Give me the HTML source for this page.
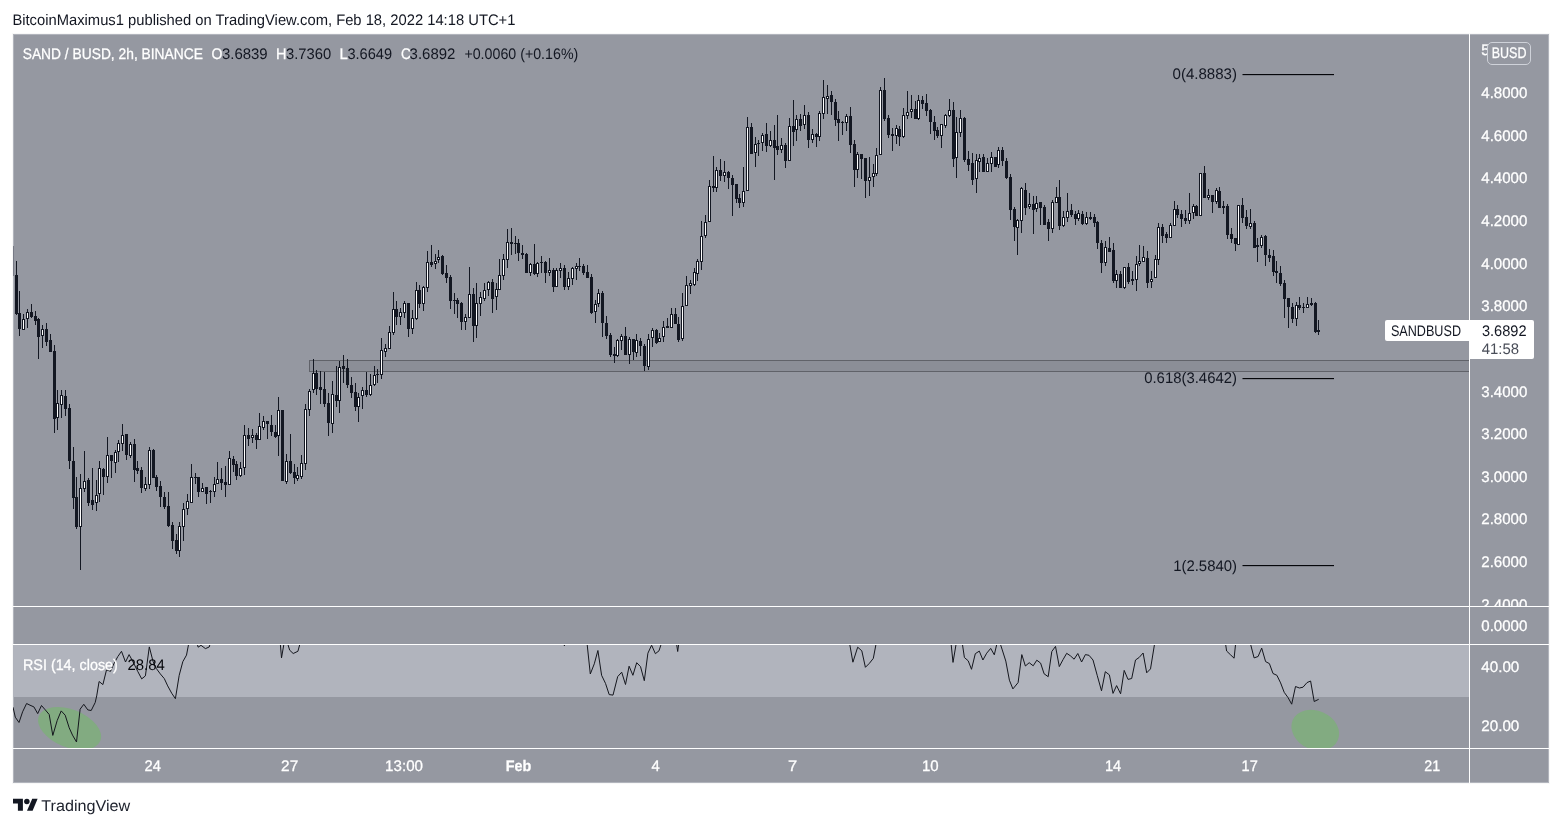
<!DOCTYPE html>
<html lang="en"><head><meta charset="utf-8"><title>SAND / BUSD chart - TradingView</title>
<style>
html,body{margin:0;padding:0;background:#fff;}
body{width:1562px;height:827px;overflow:hidden;font-family:"Liberation Sans", "DejaVu Sans", sans-serif;}
svg{display:block;}
text{font-family:"Liberation Sans", "DejaVu Sans", sans-serif;white-space:pre;text-rendering:geometricPrecision;}
.w{fill:#fff;stroke:#fff;stroke-width:0.28px;}
.d{fill:#131722;}
.g{fill:#4a4e59;}
.k{fill:#05060a;}
.t{fill:#1e222d;}
</style></head><body>
<svg width="1562" height="827" viewBox="0 0 1562 827">
<defs>
<clipPath id="cpMain"><rect x="13" y="34" width="1456" height="572"/></clipPath>
<clipPath id="cpRsi"><rect x="13" y="645" width="1456" height="104"/></clipPath>
<clipPath id="cpAx"><rect x="1470" y="34" width="79" height="572"/></clipPath>
</defs>
<rect x="0" y="0" width="1562" height="827" fill="#fff"/>
<text class="d" x="12.4" y="24.7" font-size="15.3" textLength="503.0" lengthAdjust="spacingAndGlyphs">BitcoinMaximus1 published on TradingView.com, Feb 18, 2022 14:18 UTC+1</text>
<rect x="13" y="34" width="1536" height="749" fill="#9598a1"/>
<rect x="13.5" y="34.5" width="1535" height="748" fill="none" stroke="#c9ccd3" stroke-opacity="0.55" stroke-width="1"/>
<rect x="12.5" y="33.5" width="1537" height="750" fill="none" stroke="#9598a1" stroke-opacity="0.07" stroke-width="1"/>
<rect x="13" y="645" width="1456" height="52" fill="#b1b4bd"/>
<rect x="309" y="360" width="1160" height="12" fill="#8b8e97"/>
<rect x="309" y="360" width="1160" height="1" fill="#606269"/>
<rect x="309" y="371" width="1160" height="1" fill="#606269"/>
<rect x="309" y="360" width="1" height="12" fill="#606269"/>
<rect x="1242.5" y="74" width="91.5" height="1.15" fill="#05060a"/>
<text class="d" x="1172.5" y="78.7" font-size="15.3" textLength="64.5" lengthAdjust="spacingAndGlyphs">0(4.8883)</text>
<rect x="1242.5" y="378" width="91.5" height="1.15" fill="#05060a"/>
<text class="d" x="1144.2" y="382.7" font-size="15.3" textLength="92.8" lengthAdjust="spacingAndGlyphs">0.618(3.4642)</text>
<rect x="1242.5" y="565" width="91.5" height="1.15" fill="#05060a"/>
<text class="d" x="1173.2" y="570.5" font-size="15.3" textLength="63.8" lengthAdjust="spacingAndGlyphs">1(2.5840)</text>
<g id="candles" shape-rendering="crispEdges" clip-path="url(#cpMain)">
<rect x="13" y="246" width="1" height="30" fill="#777a86"/>
<rect x="1318" y="320" width="1" height="15" fill="#131722"/>
<rect x="1317" y="330" width="3" height="2" fill="#131722"/>
<rect x="1315" y="302" width="1" height="31" fill="#131722"/>
<rect x="1314" y="303" width="3" height="29" fill="#131722"/>
<rect x="1311" y="298" width="1" height="8" fill="#131722"/>
<rect x="1310" y="303" width="3" height="2" fill="#131722"/>
<rect x="1307" y="297" width="1" height="11" fill="#131722"/>
<rect x="1306" y="304" width="3" height="4" fill="#131722"/>
<rect x="1307" y="305" width="1" height="2" fill="#fff"/>
<rect x="1303" y="303" width="1" height="10" fill="#131722"/>
<rect x="1302" y="307" width="3" height="1" fill="#131722"/>
<rect x="1299" y="297" width="1" height="13" fill="#131722"/>
<rect x="1298" y="305" width="3" height="3" fill="#131722"/>
<rect x="1296" y="302" width="1" height="24" fill="#131722"/>
<rect x="1295" y="305" width="3" height="14" fill="#131722"/>
<rect x="1296" y="306" width="1" height="12" fill="#fff"/>
<rect x="1292" y="303" width="1" height="20" fill="#131722"/>
<rect x="1291" y="307" width="3" height="12" fill="#131722"/>
<rect x="1288" y="298" width="1" height="30" fill="#131722"/>
<rect x="1287" y="298" width="3" height="9" fill="#131722"/>
<rect x="1284" y="280" width="1" height="38" fill="#131722"/>
<rect x="1283" y="283" width="3" height="16" fill="#131722"/>
<rect x="1280" y="266" width="1" height="20" fill="#131722"/>
<rect x="1279" y="273" width="3" height="11" fill="#131722"/>
<rect x="1276" y="261" width="1" height="22" fill="#131722"/>
<rect x="1275" y="271" width="3" height="2" fill="#131722"/>
<rect x="1273" y="250" width="1" height="26" fill="#131722"/>
<rect x="1272" y="256" width="3" height="16" fill="#131722"/>
<rect x="1269" y="249" width="1" height="13" fill="#131722"/>
<rect x="1268" y="255" width="3" height="3" fill="#131722"/>
<rect x="1265" y="235" width="1" height="31" fill="#131722"/>
<rect x="1264" y="236" width="3" height="19" fill="#131722"/>
<rect x="1261" y="235" width="1" height="13" fill="#131722"/>
<rect x="1260" y="237" width="3" height="9" fill="#131722"/>
<rect x="1261" y="238" width="1" height="7" fill="#fff"/>
<rect x="1257" y="238" width="1" height="24" fill="#131722"/>
<rect x="1256" y="245" width="3" height="2" fill="#131722"/>
<rect x="1254" y="221" width="1" height="27" fill="#131722"/>
<rect x="1253" y="223" width="3" height="25" fill="#131722"/>
<rect x="1250" y="209" width="1" height="20" fill="#131722"/>
<rect x="1249" y="223" width="3" height="4" fill="#131722"/>
<rect x="1250" y="224" width="1" height="2" fill="#fff"/>
<rect x="1246" y="210" width="1" height="19" fill="#131722"/>
<rect x="1245" y="217" width="3" height="9" fill="#131722"/>
<rect x="1242" y="198" width="1" height="25" fill="#131722"/>
<rect x="1241" y="205" width="3" height="13" fill="#131722"/>
<rect x="1238" y="205" width="1" height="40" fill="#131722"/>
<rect x="1237" y="205" width="3" height="40" fill="#131722"/>
<rect x="1238" y="206" width="1" height="38" fill="#fff"/>
<rect x="1235" y="238" width="1" height="13" fill="#131722"/>
<rect x="1234" y="238" width="3" height="6" fill="#131722"/>
<rect x="1231" y="228" width="1" height="15" fill="#131722"/>
<rect x="1230" y="234" width="3" height="5" fill="#131722"/>
<rect x="1227" y="204" width="1" height="35" fill="#131722"/>
<rect x="1226" y="206" width="3" height="29" fill="#131722"/>
<rect x="1223" y="201" width="1" height="13" fill="#131722"/>
<rect x="1222" y="206" width="3" height="2" fill="#131722"/>
<rect x="1219" y="187" width="1" height="21" fill="#131722"/>
<rect x="1218" y="191" width="3" height="17" fill="#131722"/>
<rect x="1216" y="188" width="1" height="16" fill="#131722"/>
<rect x="1215" y="190" width="3" height="12" fill="#131722"/>
<rect x="1216" y="191" width="1" height="10" fill="#fff"/>
<rect x="1212" y="195" width="1" height="18" fill="#131722"/>
<rect x="1211" y="195" width="3" height="7" fill="#131722"/>
<rect x="1208" y="189" width="1" height="11" fill="#131722"/>
<rect x="1207" y="195" width="3" height="3" fill="#131722"/>
<rect x="1208" y="196" width="1" height="1" fill="#fff"/>
<rect x="1204" y="166" width="1" height="32" fill="#131722"/>
<rect x="1203" y="173" width="3" height="25" fill="#131722"/>
<rect x="1200" y="173" width="1" height="43" fill="#131722"/>
<rect x="1199" y="173" width="3" height="43" fill="#131722"/>
<rect x="1200" y="174" width="1" height="41" fill="#fff"/>
<rect x="1196" y="205" width="1" height="11" fill="#131722"/>
<rect x="1195" y="206" width="3" height="10" fill="#131722"/>
<rect x="1193" y="204" width="1" height="15" fill="#131722"/>
<rect x="1192" y="206" width="3" height="7" fill="#131722"/>
<rect x="1193" y="207" width="1" height="5" fill="#fff"/>
<rect x="1189" y="193" width="1" height="31" fill="#131722"/>
<rect x="1188" y="213" width="3" height="8" fill="#131722"/>
<rect x="1189" y="214" width="1" height="6" fill="#fff"/>
<rect x="1185" y="210" width="1" height="14" fill="#131722"/>
<rect x="1184" y="218" width="3" height="3" fill="#131722"/>
<rect x="1181" y="210" width="1" height="17" fill="#131722"/>
<rect x="1180" y="214" width="3" height="5" fill="#131722"/>
<rect x="1177" y="205" width="1" height="13" fill="#131722"/>
<rect x="1176" y="209" width="3" height="6" fill="#131722"/>
<rect x="1174" y="201" width="1" height="25" fill="#131722"/>
<rect x="1173" y="209" width="3" height="17" fill="#131722"/>
<rect x="1174" y="210" width="1" height="15" fill="#fff"/>
<rect x="1170" y="223" width="1" height="15" fill="#131722"/>
<rect x="1169" y="225" width="3" height="13" fill="#131722"/>
<rect x="1170" y="226" width="1" height="11" fill="#fff"/>
<rect x="1166" y="232" width="1" height="11" fill="#131722"/>
<rect x="1165" y="234" width="3" height="4" fill="#131722"/>
<rect x="1162" y="224" width="1" height="19" fill="#131722"/>
<rect x="1161" y="227" width="3" height="9" fill="#131722"/>
<rect x="1158" y="223" width="1" height="42" fill="#131722"/>
<rect x="1157" y="227" width="3" height="33" fill="#131722"/>
<rect x="1158" y="228" width="1" height="31" fill="#fff"/>
<rect x="1155" y="255" width="1" height="23" fill="#131722"/>
<rect x="1154" y="259" width="3" height="19" fill="#131722"/>
<rect x="1155" y="260" width="1" height="17" fill="#fff"/>
<rect x="1151" y="271" width="1" height="17" fill="#131722"/>
<rect x="1150" y="279" width="3" height="3" fill="#131722"/>
<rect x="1151" y="280" width="1" height="1" fill="#fff"/>
<rect x="1147" y="251" width="1" height="37" fill="#131722"/>
<rect x="1146" y="258" width="3" height="25" fill="#131722"/>
<rect x="1143" y="246" width="1" height="16" fill="#131722"/>
<rect x="1142" y="257" width="3" height="5" fill="#131722"/>
<rect x="1143" y="258" width="1" height="3" fill="#fff"/>
<rect x="1139" y="245" width="1" height="21" fill="#131722"/>
<rect x="1138" y="261" width="3" height="3" fill="#131722"/>
<rect x="1139" y="262" width="1" height="1" fill="#fff"/>
<rect x="1136" y="256" width="1" height="35" fill="#131722"/>
<rect x="1135" y="264" width="3" height="16" fill="#131722"/>
<rect x="1136" y="265" width="1" height="14" fill="#fff"/>
<rect x="1132" y="271" width="1" height="14" fill="#131722"/>
<rect x="1131" y="279" width="3" height="2" fill="#131722"/>
<rect x="1128" y="263" width="1" height="21" fill="#131722"/>
<rect x="1127" y="267" width="3" height="15" fill="#131722"/>
<rect x="1124" y="267" width="1" height="22" fill="#131722"/>
<rect x="1123" y="267" width="3" height="21" fill="#131722"/>
<rect x="1124" y="268" width="1" height="19" fill="#fff"/>
<rect x="1120" y="271" width="1" height="17" fill="#131722"/>
<rect x="1119" y="274" width="3" height="14" fill="#131722"/>
<rect x="1116" y="270" width="1" height="18" fill="#131722"/>
<rect x="1115" y="274" width="3" height="7" fill="#131722"/>
<rect x="1116" y="275" width="1" height="5" fill="#fff"/>
<rect x="1113" y="243" width="1" height="40" fill="#131722"/>
<rect x="1112" y="250" width="3" height="31" fill="#131722"/>
<rect x="1109" y="237" width="1" height="15" fill="#131722"/>
<rect x="1108" y="248" width="3" height="4" fill="#131722"/>
<rect x="1105" y="241" width="1" height="25" fill="#131722"/>
<rect x="1104" y="247" width="3" height="16" fill="#131722"/>
<rect x="1105" y="248" width="1" height="14" fill="#fff"/>
<rect x="1101" y="240" width="1" height="33" fill="#131722"/>
<rect x="1100" y="243" width="3" height="20" fill="#131722"/>
<rect x="1097" y="221" width="1" height="28" fill="#131722"/>
<rect x="1096" y="222" width="3" height="21" fill="#131722"/>
<rect x="1094" y="214" width="1" height="13" fill="#131722"/>
<rect x="1093" y="217" width="3" height="6" fill="#131722"/>
<rect x="1090" y="212" width="1" height="8" fill="#131722"/>
<rect x="1089" y="217" width="3" height="2" fill="#131722"/>
<rect x="1086" y="212" width="1" height="13" fill="#131722"/>
<rect x="1085" y="217" width="3" height="7" fill="#131722"/>
<rect x="1086" y="218" width="1" height="5" fill="#fff"/>
<rect x="1082" y="211" width="1" height="14" fill="#131722"/>
<rect x="1081" y="214" width="3" height="10" fill="#131722"/>
<rect x="1078" y="210" width="1" height="11" fill="#131722"/>
<rect x="1077" y="213" width="3" height="6" fill="#131722"/>
<rect x="1078" y="214" width="1" height="4" fill="#fff"/>
<rect x="1075" y="211" width="1" height="14" fill="#131722"/>
<rect x="1074" y="214" width="3" height="5" fill="#131722"/>
<rect x="1071" y="204" width="1" height="13" fill="#131722"/>
<rect x="1070" y="210" width="3" height="5" fill="#131722"/>
<rect x="1067" y="193" width="1" height="29" fill="#131722"/>
<rect x="1066" y="211" width="3" height="7" fill="#131722"/>
<rect x="1067" y="212" width="1" height="5" fill="#fff"/>
<rect x="1063" y="211" width="1" height="16" fill="#131722"/>
<rect x="1062" y="217" width="3" height="9" fill="#131722"/>
<rect x="1063" y="218" width="1" height="7" fill="#fff"/>
<rect x="1059" y="180" width="1" height="50" fill="#131722"/>
<rect x="1058" y="197" width="3" height="29" fill="#131722"/>
<rect x="1056" y="187" width="1" height="16" fill="#131722"/>
<rect x="1055" y="197" width="3" height="6" fill="#131722"/>
<rect x="1056" y="198" width="1" height="4" fill="#fff"/>
<rect x="1052" y="200" width="1" height="33" fill="#131722"/>
<rect x="1051" y="202" width="3" height="27" fill="#131722"/>
<rect x="1052" y="203" width="1" height="25" fill="#fff"/>
<rect x="1048" y="219" width="1" height="22" fill="#131722"/>
<rect x="1047" y="222" width="3" height="7" fill="#131722"/>
<rect x="1044" y="205" width="1" height="20" fill="#131722"/>
<rect x="1043" y="207" width="3" height="18" fill="#131722"/>
<rect x="1040" y="202" width="1" height="23" fill="#131722"/>
<rect x="1039" y="202" width="3" height="6" fill="#131722"/>
<rect x="1036" y="196" width="1" height="16" fill="#131722"/>
<rect x="1035" y="203" width="3" height="6" fill="#131722"/>
<rect x="1036" y="204" width="1" height="4" fill="#fff"/>
<rect x="1033" y="196" width="1" height="38" fill="#131722"/>
<rect x="1032" y="204" width="3" height="6" fill="#131722"/>
<rect x="1029" y="193" width="1" height="16" fill="#131722"/>
<rect x="1028" y="204" width="3" height="3" fill="#131722"/>
<rect x="1029" y="205" width="1" height="1" fill="#fff"/>
<rect x="1025" y="183" width="1" height="32" fill="#131722"/>
<rect x="1024" y="190" width="3" height="18" fill="#131722"/>
<rect x="1021" y="187" width="1" height="46" fill="#131722"/>
<rect x="1020" y="188" width="3" height="33" fill="#131722"/>
<rect x="1021" y="189" width="1" height="31" fill="#fff"/>
<rect x="1017" y="219" width="1" height="36" fill="#131722"/>
<rect x="1016" y="220" width="3" height="8" fill="#131722"/>
<rect x="1017" y="221" width="1" height="6" fill="#fff"/>
<rect x="1014" y="207" width="1" height="34" fill="#131722"/>
<rect x="1013" y="209" width="3" height="18" fill="#131722"/>
<rect x="1010" y="174" width="1" height="46" fill="#131722"/>
<rect x="1009" y="177" width="3" height="33" fill="#131722"/>
<rect x="1006" y="158" width="1" height="21" fill="#131722"/>
<rect x="1005" y="161" width="3" height="17" fill="#131722"/>
<rect x="1002" y="147" width="1" height="19" fill="#131722"/>
<rect x="1001" y="150" width="3" height="11" fill="#131722"/>
<rect x="998" y="147" width="1" height="21" fill="#131722"/>
<rect x="997" y="150" width="3" height="15" fill="#131722"/>
<rect x="998" y="151" width="1" height="13" fill="#fff"/>
<rect x="995" y="157" width="1" height="10" fill="#131722"/>
<rect x="994" y="157" width="3" height="10" fill="#131722"/>
<rect x="991" y="152" width="1" height="20" fill="#131722"/>
<rect x="990" y="157" width="3" height="7" fill="#131722"/>
<rect x="991" y="158" width="1" height="5" fill="#fff"/>
<rect x="987" y="158" width="1" height="14" fill="#131722"/>
<rect x="986" y="163" width="3" height="9" fill="#131722"/>
<rect x="987" y="164" width="1" height="7" fill="#fff"/>
<rect x="983" y="154" width="1" height="18" fill="#131722"/>
<rect x="982" y="157" width="3" height="15" fill="#131722"/>
<rect x="979" y="154" width="1" height="18" fill="#131722"/>
<rect x="978" y="158" width="3" height="4" fill="#131722"/>
<rect x="979" y="159" width="1" height="2" fill="#fff"/>
<rect x="976" y="154" width="1" height="39" fill="#131722"/>
<rect x="975" y="160" width="3" height="19" fill="#131722"/>
<rect x="976" y="161" width="1" height="17" fill="#fff"/>
<rect x="972" y="153" width="1" height="32" fill="#131722"/>
<rect x="971" y="163" width="3" height="17" fill="#131722"/>
<rect x="968" y="151" width="1" height="20" fill="#131722"/>
<rect x="967" y="159" width="3" height="6" fill="#131722"/>
<rect x="964" y="117" width="1" height="45" fill="#131722"/>
<rect x="963" y="118" width="3" height="42" fill="#131722"/>
<rect x="960" y="110" width="1" height="27" fill="#131722"/>
<rect x="959" y="118" width="3" height="15" fill="#131722"/>
<rect x="960" y="119" width="1" height="13" fill="#fff"/>
<rect x="956" y="117" width="1" height="61" fill="#131722"/>
<rect x="955" y="132" width="3" height="26" fill="#131722"/>
<rect x="956" y="133" width="1" height="24" fill="#fff"/>
<rect x="953" y="102" width="1" height="65" fill="#131722"/>
<rect x="952" y="110" width="3" height="49" fill="#131722"/>
<rect x="949" y="99" width="1" height="18" fill="#131722"/>
<rect x="948" y="110" width="3" height="6" fill="#131722"/>
<rect x="949" y="111" width="1" height="4" fill="#fff"/>
<rect x="945" y="114" width="1" height="14" fill="#131722"/>
<rect x="944" y="115" width="3" height="11" fill="#131722"/>
<rect x="945" y="116" width="1" height="9" fill="#fff"/>
<rect x="941" y="124" width="1" height="24" fill="#131722"/>
<rect x="940" y="124" width="3" height="12" fill="#131722"/>
<rect x="941" y="125" width="1" height="10" fill="#fff"/>
<rect x="937" y="127" width="1" height="11" fill="#131722"/>
<rect x="936" y="130" width="3" height="6" fill="#131722"/>
<rect x="934" y="116" width="1" height="24" fill="#131722"/>
<rect x="933" y="122" width="3" height="9" fill="#131722"/>
<rect x="930" y="109" width="1" height="25" fill="#131722"/>
<rect x="929" y="110" width="3" height="12" fill="#131722"/>
<rect x="926" y="94" width="1" height="22" fill="#131722"/>
<rect x="925" y="103" width="3" height="8" fill="#131722"/>
<rect x="922" y="96" width="1" height="13" fill="#131722"/>
<rect x="921" y="100" width="3" height="4" fill="#131722"/>
<rect x="918" y="95" width="1" height="25" fill="#131722"/>
<rect x="917" y="100" width="3" height="19" fill="#131722"/>
<rect x="918" y="101" width="1" height="17" fill="#fff"/>
<rect x="915" y="101" width="1" height="18" fill="#131722"/>
<rect x="914" y="109" width="3" height="10" fill="#131722"/>
<rect x="911" y="95" width="1" height="23" fill="#131722"/>
<rect x="910" y="109" width="3" height="3" fill="#131722"/>
<rect x="911" y="110" width="1" height="1" fill="#fff"/>
<rect x="907" y="91" width="1" height="28" fill="#131722"/>
<rect x="906" y="112" width="3" height="4" fill="#131722"/>
<rect x="907" y="113" width="1" height="2" fill="#fff"/>
<rect x="903" y="108" width="1" height="30" fill="#131722"/>
<rect x="902" y="115" width="3" height="22" fill="#131722"/>
<rect x="903" y="116" width="1" height="20" fill="#fff"/>
<rect x="899" y="126" width="1" height="20" fill="#131722"/>
<rect x="898" y="129" width="3" height="8" fill="#131722"/>
<rect x="896" y="125" width="1" height="19" fill="#131722"/>
<rect x="895" y="128" width="3" height="8" fill="#131722"/>
<rect x="896" y="129" width="1" height="6" fill="#fff"/>
<rect x="892" y="128" width="1" height="23" fill="#131722"/>
<rect x="891" y="134" width="3" height="2" fill="#131722"/>
<rect x="888" y="115" width="1" height="23" fill="#131722"/>
<rect x="887" y="118" width="3" height="17" fill="#131722"/>
<rect x="884" y="78" width="1" height="43" fill="#131722"/>
<rect x="883" y="90" width="3" height="29" fill="#131722"/>
<rect x="880" y="87" width="1" height="68" fill="#131722"/>
<rect x="879" y="90" width="3" height="65" fill="#131722"/>
<rect x="880" y="91" width="1" height="63" fill="#fff"/>
<rect x="876" y="148" width="1" height="28" fill="#131722"/>
<rect x="875" y="155" width="3" height="19" fill="#131722"/>
<rect x="876" y="156" width="1" height="17" fill="#fff"/>
<rect x="873" y="164" width="1" height="23" fill="#131722"/>
<rect x="872" y="173" width="3" height="4" fill="#131722"/>
<rect x="873" y="174" width="1" height="2" fill="#fff"/>
<rect x="869" y="157" width="1" height="39" fill="#131722"/>
<rect x="868" y="177" width="3" height="4" fill="#131722"/>
<rect x="869" y="178" width="1" height="2" fill="#fff"/>
<rect x="865" y="158" width="1" height="40" fill="#131722"/>
<rect x="864" y="158" width="3" height="23" fill="#131722"/>
<rect x="861" y="154" width="1" height="25" fill="#131722"/>
<rect x="860" y="154" width="3" height="5" fill="#131722"/>
<rect x="857" y="152" width="1" height="26" fill="#131722"/>
<rect x="856" y="154" width="3" height="16" fill="#131722"/>
<rect x="857" y="155" width="1" height="14" fill="#fff"/>
<rect x="854" y="140" width="1" height="47" fill="#131722"/>
<rect x="853" y="144" width="3" height="26" fill="#131722"/>
<rect x="850" y="107" width="1" height="46" fill="#131722"/>
<rect x="849" y="116" width="3" height="29" fill="#131722"/>
<rect x="846" y="114" width="1" height="17" fill="#131722"/>
<rect x="845" y="116" width="3" height="7" fill="#131722"/>
<rect x="846" y="117" width="1" height="5" fill="#fff"/>
<rect x="842" y="121" width="1" height="14" fill="#131722"/>
<rect x="841" y="122" width="3" height="1" fill="#131722"/>
<rect x="838" y="111" width="1" height="30" fill="#131722"/>
<rect x="837" y="119" width="3" height="4" fill="#131722"/>
<rect x="835" y="99" width="1" height="27" fill="#131722"/>
<rect x="834" y="102" width="3" height="18" fill="#131722"/>
<rect x="831" y="91" width="1" height="24" fill="#131722"/>
<rect x="830" y="95" width="3" height="7" fill="#131722"/>
<rect x="827" y="85" width="1" height="29" fill="#131722"/>
<rect x="826" y="96" width="3" height="3" fill="#131722"/>
<rect x="827" y="97" width="1" height="1" fill="#fff"/>
<rect x="823" y="80" width="1" height="39" fill="#131722"/>
<rect x="822" y="97" width="3" height="17" fill="#131722"/>
<rect x="823" y="98" width="1" height="15" fill="#fff"/>
<rect x="819" y="111" width="1" height="30" fill="#131722"/>
<rect x="818" y="113" width="3" height="24" fill="#131722"/>
<rect x="819" y="114" width="1" height="22" fill="#fff"/>
<rect x="816" y="133" width="1" height="14" fill="#131722"/>
<rect x="815" y="134" width="3" height="3" fill="#131722"/>
<rect x="812" y="129" width="1" height="14" fill="#131722"/>
<rect x="811" y="134" width="3" height="6" fill="#131722"/>
<rect x="812" y="135" width="1" height="4" fill="#fff"/>
<rect x="808" y="112" width="1" height="36" fill="#131722"/>
<rect x="807" y="115" width="3" height="25" fill="#131722"/>
<rect x="804" y="105" width="1" height="24" fill="#131722"/>
<rect x="803" y="115" width="3" height="10" fill="#131722"/>
<rect x="804" y="116" width="1" height="8" fill="#fff"/>
<rect x="800" y="114" width="1" height="17" fill="#131722"/>
<rect x="799" y="119" width="3" height="7" fill="#131722"/>
<rect x="796" y="115" width="1" height="26" fill="#131722"/>
<rect x="795" y="119" width="3" height="11" fill="#131722"/>
<rect x="796" y="120" width="1" height="9" fill="#fff"/>
<rect x="793" y="100" width="1" height="46" fill="#131722"/>
<rect x="792" y="126" width="3" height="6" fill="#131722"/>
<rect x="789" y="118" width="1" height="43" fill="#131722"/>
<rect x="788" y="126" width="3" height="35" fill="#131722"/>
<rect x="789" y="127" width="1" height="33" fill="#fff"/>
<rect x="785" y="143" width="1" height="25" fill="#131722"/>
<rect x="784" y="145" width="3" height="16" fill="#131722"/>
<rect x="781" y="138" width="1" height="15" fill="#131722"/>
<rect x="780" y="145" width="3" height="5" fill="#131722"/>
<rect x="781" y="146" width="1" height="3" fill="#fff"/>
<rect x="777" y="115" width="1" height="40" fill="#131722"/>
<rect x="776" y="146" width="3" height="4" fill="#131722"/>
<rect x="774" y="125" width="1" height="55" fill="#131722"/>
<rect x="773" y="140" width="3" height="8" fill="#131722"/>
<rect x="770" y="131" width="1" height="16" fill="#131722"/>
<rect x="769" y="140" width="3" height="6" fill="#131722"/>
<rect x="770" y="141" width="1" height="4" fill="#fff"/>
<rect x="766" y="123" width="1" height="29" fill="#131722"/>
<rect x="765" y="134" width="3" height="12" fill="#131722"/>
<rect x="762" y="133" width="1" height="18" fill="#131722"/>
<rect x="761" y="135" width="3" height="8" fill="#131722"/>
<rect x="762" y="136" width="1" height="6" fill="#fff"/>
<rect x="758" y="140" width="1" height="16" fill="#131722"/>
<rect x="757" y="143" width="3" height="1" fill="#131722"/>
<rect x="755" y="137" width="1" height="30" fill="#131722"/>
<rect x="754" y="144" width="3" height="9" fill="#131722"/>
<rect x="755" y="145" width="1" height="7" fill="#fff"/>
<rect x="751" y="123" width="1" height="31" fill="#131722"/>
<rect x="750" y="127" width="3" height="27" fill="#131722"/>
<rect x="747" y="117" width="1" height="74" fill="#131722"/>
<rect x="746" y="127" width="3" height="64" fill="#131722"/>
<rect x="747" y="128" width="1" height="62" fill="#fff"/>
<rect x="743" y="167" width="1" height="40" fill="#131722"/>
<rect x="742" y="191" width="3" height="12" fill="#131722"/>
<rect x="743" y="192" width="1" height="10" fill="#fff"/>
<rect x="739" y="194" width="1" height="14" fill="#131722"/>
<rect x="738" y="198" width="3" height="5" fill="#131722"/>
<rect x="736" y="184" width="1" height="19" fill="#131722"/>
<rect x="735" y="184" width="3" height="15" fill="#131722"/>
<rect x="732" y="175" width="1" height="41" fill="#131722"/>
<rect x="731" y="178" width="3" height="7" fill="#131722"/>
<rect x="728" y="171" width="1" height="18" fill="#131722"/>
<rect x="727" y="172" width="3" height="6" fill="#131722"/>
<rect x="724" y="161" width="1" height="21" fill="#131722"/>
<rect x="723" y="172" width="3" height="4" fill="#131722"/>
<rect x="724" y="173" width="1" height="2" fill="#fff"/>
<rect x="720" y="159" width="1" height="22" fill="#131722"/>
<rect x="719" y="170" width="3" height="6" fill="#131722"/>
<rect x="716" y="167" width="1" height="25" fill="#131722"/>
<rect x="715" y="170" width="3" height="18" fill="#131722"/>
<rect x="716" y="171" width="1" height="16" fill="#fff"/>
<rect x="713" y="156" width="1" height="36" fill="#131722"/>
<rect x="712" y="186" width="3" height="2" fill="#131722"/>
<rect x="709" y="180" width="1" height="42" fill="#131722"/>
<rect x="708" y="186" width="3" height="36" fill="#131722"/>
<rect x="709" y="187" width="1" height="34" fill="#fff"/>
<rect x="705" y="215" width="1" height="23" fill="#131722"/>
<rect x="704" y="222" width="3" height="14" fill="#131722"/>
<rect x="705" y="223" width="1" height="12" fill="#fff"/>
<rect x="701" y="221" width="1" height="49" fill="#131722"/>
<rect x="700" y="236" width="3" height="26" fill="#131722"/>
<rect x="701" y="237" width="1" height="24" fill="#fff"/>
<rect x="697" y="259" width="1" height="22" fill="#131722"/>
<rect x="696" y="261" width="3" height="13" fill="#131722"/>
<rect x="697" y="262" width="1" height="11" fill="#fff"/>
<rect x="694" y="268" width="1" height="18" fill="#131722"/>
<rect x="693" y="272" width="3" height="13" fill="#131722"/>
<rect x="694" y="273" width="1" height="11" fill="#fff"/>
<rect x="690" y="280" width="1" height="14" fill="#131722"/>
<rect x="689" y="283" width="3" height="3" fill="#131722"/>
<rect x="690" y="284" width="1" height="1" fill="#fff"/>
<rect x="686" y="276" width="1" height="30" fill="#131722"/>
<rect x="685" y="285" width="3" height="21" fill="#131722"/>
<rect x="686" y="286" width="1" height="19" fill="#fff"/>
<rect x="682" y="293" width="1" height="48" fill="#131722"/>
<rect x="681" y="306" width="3" height="33" fill="#131722"/>
<rect x="682" y="307" width="1" height="31" fill="#fff"/>
<rect x="678" y="317" width="1" height="25" fill="#131722"/>
<rect x="677" y="324" width="3" height="16" fill="#131722"/>
<rect x="675" y="308" width="1" height="16" fill="#131722"/>
<rect x="674" y="314" width="3" height="10" fill="#131722"/>
<rect x="671" y="308" width="1" height="20" fill="#131722"/>
<rect x="670" y="314" width="3" height="14" fill="#131722"/>
<rect x="671" y="315" width="1" height="12" fill="#fff"/>
<rect x="667" y="318" width="1" height="10" fill="#131722"/>
<rect x="666" y="326" width="3" height="2" fill="#131722"/>
<rect x="663" y="321" width="1" height="21" fill="#131722"/>
<rect x="662" y="327" width="3" height="10" fill="#131722"/>
<rect x="663" y="328" width="1" height="8" fill="#fff"/>
<rect x="659" y="333" width="1" height="9" fill="#131722"/>
<rect x="658" y="338" width="3" height="4" fill="#131722"/>
<rect x="659" y="339" width="1" height="2" fill="#fff"/>
<rect x="656" y="329" width="1" height="15" fill="#131722"/>
<rect x="655" y="330" width="3" height="13" fill="#131722"/>
<rect x="652" y="328" width="1" height="19" fill="#131722"/>
<rect x="651" y="330" width="3" height="8" fill="#131722"/>
<rect x="652" y="331" width="1" height="6" fill="#fff"/>
<rect x="648" y="334" width="1" height="36" fill="#131722"/>
<rect x="647" y="339" width="3" height="28" fill="#131722"/>
<rect x="648" y="340" width="1" height="26" fill="#fff"/>
<rect x="644" y="344" width="1" height="27" fill="#131722"/>
<rect x="643" y="346" width="3" height="20" fill="#131722"/>
<rect x="640" y="338" width="1" height="18" fill="#131722"/>
<rect x="639" y="341" width="3" height="5" fill="#131722"/>
<rect x="636" y="334" width="1" height="23" fill="#131722"/>
<rect x="635" y="340" width="3" height="13" fill="#131722"/>
<rect x="636" y="341" width="1" height="11" fill="#fff"/>
<rect x="633" y="339" width="1" height="21" fill="#131722"/>
<rect x="632" y="339" width="3" height="13" fill="#131722"/>
<rect x="629" y="337" width="1" height="27" fill="#131722"/>
<rect x="628" y="339" width="3" height="16" fill="#131722"/>
<rect x="629" y="340" width="1" height="14" fill="#fff"/>
<rect x="625" y="327" width="1" height="28" fill="#131722"/>
<rect x="624" y="336" width="3" height="19" fill="#131722"/>
<rect x="621" y="334" width="1" height="16" fill="#131722"/>
<rect x="620" y="336" width="3" height="5" fill="#131722"/>
<rect x="621" y="337" width="1" height="3" fill="#fff"/>
<rect x="617" y="339" width="1" height="18" fill="#131722"/>
<rect x="616" y="340" width="3" height="16" fill="#131722"/>
<rect x="617" y="341" width="1" height="14" fill="#fff"/>
<rect x="614" y="347" width="1" height="16" fill="#131722"/>
<rect x="613" y="354" width="3" height="2" fill="#131722"/>
<rect x="610" y="333" width="1" height="24" fill="#131722"/>
<rect x="609" y="335" width="3" height="20" fill="#131722"/>
<rect x="606" y="316" width="1" height="23" fill="#131722"/>
<rect x="605" y="323" width="3" height="13" fill="#131722"/>
<rect x="602" y="291" width="1" height="46" fill="#131722"/>
<rect x="601" y="293" width="3" height="30" fill="#131722"/>
<rect x="598" y="289" width="1" height="18" fill="#131722"/>
<rect x="597" y="293" width="3" height="11" fill="#131722"/>
<rect x="598" y="294" width="1" height="9" fill="#fff"/>
<rect x="595" y="300" width="1" height="23" fill="#131722"/>
<rect x="594" y="304" width="3" height="8" fill="#131722"/>
<rect x="595" y="305" width="1" height="6" fill="#fff"/>
<rect x="591" y="274" width="1" height="40" fill="#131722"/>
<rect x="590" y="277" width="3" height="36" fill="#131722"/>
<rect x="587" y="265" width="1" height="13" fill="#131722"/>
<rect x="586" y="272" width="3" height="6" fill="#131722"/>
<rect x="583" y="264" width="1" height="11" fill="#131722"/>
<rect x="582" y="266" width="3" height="7" fill="#131722"/>
<rect x="579" y="258" width="1" height="13" fill="#131722"/>
<rect x="578" y="266" width="3" height="1" fill="#131722"/>
<rect x="576" y="263" width="1" height="17" fill="#131722"/>
<rect x="575" y="266" width="3" height="3" fill="#131722"/>
<rect x="576" y="267" width="1" height="1" fill="#fff"/>
<rect x="572" y="267" width="1" height="18" fill="#131722"/>
<rect x="571" y="268" width="3" height="11" fill="#131722"/>
<rect x="572" y="269" width="1" height="9" fill="#fff"/>
<rect x="568" y="272" width="1" height="18" fill="#131722"/>
<rect x="567" y="278" width="3" height="9" fill="#131722"/>
<rect x="568" y="279" width="1" height="7" fill="#fff"/>
<rect x="564" y="265" width="1" height="25" fill="#131722"/>
<rect x="563" y="268" width="3" height="19" fill="#131722"/>
<rect x="560" y="263" width="1" height="15" fill="#131722"/>
<rect x="559" y="268" width="3" height="3" fill="#131722"/>
<rect x="560" y="269" width="1" height="1" fill="#fff"/>
<rect x="556" y="268" width="1" height="19" fill="#131722"/>
<rect x="555" y="270" width="3" height="17" fill="#131722"/>
<rect x="556" y="271" width="1" height="15" fill="#fff"/>
<rect x="553" y="268" width="1" height="24" fill="#131722"/>
<rect x="552" y="270" width="3" height="17" fill="#131722"/>
<rect x="549" y="258" width="1" height="18" fill="#131722"/>
<rect x="548" y="270" width="3" height="3" fill="#131722"/>
<rect x="549" y="271" width="1" height="1" fill="#fff"/>
<rect x="545" y="261" width="1" height="22" fill="#131722"/>
<rect x="544" y="262" width="3" height="11" fill="#131722"/>
<rect x="541" y="256" width="1" height="17" fill="#131722"/>
<rect x="540" y="262" width="3" height="1" fill="#131722"/>
<rect x="537" y="262" width="1" height="15" fill="#131722"/>
<rect x="536" y="263" width="3" height="11" fill="#131722"/>
<rect x="537" y="264" width="1" height="9" fill="#fff"/>
<rect x="534" y="244" width="1" height="31" fill="#131722"/>
<rect x="533" y="264" width="3" height="10" fill="#131722"/>
<rect x="530" y="263" width="1" height="13" fill="#131722"/>
<rect x="529" y="264" width="3" height="9" fill="#131722"/>
<rect x="530" y="265" width="1" height="7" fill="#fff"/>
<rect x="526" y="253" width="1" height="20" fill="#131722"/>
<rect x="525" y="254" width="3" height="19" fill="#131722"/>
<rect x="522" y="245" width="1" height="14" fill="#131722"/>
<rect x="521" y="253" width="3" height="2" fill="#131722"/>
<rect x="518" y="239" width="1" height="22" fill="#131722"/>
<rect x="517" y="243" width="3" height="10" fill="#131722"/>
<rect x="515" y="236" width="1" height="18" fill="#131722"/>
<rect x="514" y="243" width="3" height="1" fill="#131722"/>
<rect x="511" y="228" width="1" height="27" fill="#131722"/>
<rect x="510" y="242" width="3" height="2" fill="#131722"/>
<rect x="507" y="229" width="1" height="39" fill="#131722"/>
<rect x="506" y="242" width="3" height="18" fill="#131722"/>
<rect x="507" y="243" width="1" height="16" fill="#fff"/>
<rect x="503" y="254" width="1" height="26" fill="#131722"/>
<rect x="502" y="259" width="3" height="17" fill="#131722"/>
<rect x="503" y="260" width="1" height="15" fill="#fff"/>
<rect x="499" y="259" width="1" height="31" fill="#131722"/>
<rect x="498" y="275" width="3" height="15" fill="#131722"/>
<rect x="499" y="276" width="1" height="13" fill="#fff"/>
<rect x="496" y="283" width="1" height="27" fill="#131722"/>
<rect x="495" y="289" width="3" height="8" fill="#131722"/>
<rect x="496" y="290" width="1" height="6" fill="#fff"/>
<rect x="492" y="279" width="1" height="34" fill="#131722"/>
<rect x="491" y="282" width="3" height="17" fill="#131722"/>
<rect x="488" y="281" width="1" height="15" fill="#131722"/>
<rect x="487" y="282" width="3" height="8" fill="#131722"/>
<rect x="488" y="283" width="1" height="6" fill="#fff"/>
<rect x="484" y="283" width="1" height="18" fill="#131722"/>
<rect x="483" y="290" width="3" height="9" fill="#131722"/>
<rect x="484" y="291" width="1" height="7" fill="#fff"/>
<rect x="480" y="292" width="1" height="24" fill="#131722"/>
<rect x="479" y="297" width="3" height="7" fill="#131722"/>
<rect x="480" y="298" width="1" height="5" fill="#fff"/>
<rect x="476" y="283" width="1" height="55" fill="#131722"/>
<rect x="475" y="303" width="3" height="23" fill="#131722"/>
<rect x="476" y="304" width="1" height="21" fill="#fff"/>
<rect x="473" y="288" width="1" height="54" fill="#131722"/>
<rect x="472" y="294" width="3" height="32" fill="#131722"/>
<rect x="469" y="267" width="1" height="51" fill="#131722"/>
<rect x="468" y="294" width="3" height="24" fill="#131722"/>
<rect x="469" y="295" width="1" height="22" fill="#fff"/>
<rect x="465" y="314" width="1" height="16" fill="#131722"/>
<rect x="464" y="317" width="3" height="5" fill="#131722"/>
<rect x="465" y="318" width="1" height="3" fill="#fff"/>
<rect x="461" y="302" width="1" height="28" fill="#131722"/>
<rect x="460" y="303" width="3" height="19" fill="#131722"/>
<rect x="457" y="298" width="1" height="20" fill="#131722"/>
<rect x="456" y="300" width="3" height="4" fill="#131722"/>
<rect x="454" y="293" width="1" height="21" fill="#131722"/>
<rect x="453" y="300" width="3" height="1" fill="#131722"/>
<rect x="450" y="275" width="1" height="34" fill="#131722"/>
<rect x="449" y="277" width="3" height="24" fill="#131722"/>
<rect x="446" y="265" width="1" height="18" fill="#131722"/>
<rect x="445" y="273" width="3" height="5" fill="#131722"/>
<rect x="442" y="255" width="1" height="20" fill="#131722"/>
<rect x="441" y="256" width="3" height="18" fill="#131722"/>
<rect x="438" y="250" width="1" height="13" fill="#131722"/>
<rect x="437" y="257" width="3" height="3" fill="#131722"/>
<rect x="438" y="258" width="1" height="1" fill="#fff"/>
<rect x="435" y="254" width="1" height="15" fill="#131722"/>
<rect x="434" y="261" width="3" height="3" fill="#131722"/>
<rect x="435" y="262" width="1" height="1" fill="#fff"/>
<rect x="431" y="245" width="1" height="22" fill="#131722"/>
<rect x="430" y="262" width="3" height="3" fill="#131722"/>
<rect x="427" y="251" width="1" height="41" fill="#131722"/>
<rect x="426" y="262" width="3" height="26" fill="#131722"/>
<rect x="427" y="263" width="1" height="24" fill="#fff"/>
<rect x="423" y="286" width="1" height="25" fill="#131722"/>
<rect x="422" y="287" width="3" height="17" fill="#131722"/>
<rect x="423" y="288" width="1" height="15" fill="#fff"/>
<rect x="419" y="285" width="1" height="23" fill="#131722"/>
<rect x="418" y="290" width="3" height="14" fill="#131722"/>
<rect x="416" y="282" width="1" height="38" fill="#131722"/>
<rect x="415" y="290" width="3" height="29" fill="#131722"/>
<rect x="416" y="291" width="1" height="27" fill="#fff"/>
<rect x="412" y="310" width="1" height="24" fill="#131722"/>
<rect x="411" y="318" width="3" height="11" fill="#131722"/>
<rect x="412" y="319" width="1" height="9" fill="#fff"/>
<rect x="408" y="303" width="1" height="34" fill="#131722"/>
<rect x="407" y="303" width="3" height="26" fill="#131722"/>
<rect x="404" y="301" width="1" height="17" fill="#131722"/>
<rect x="403" y="303" width="3" height="10" fill="#131722"/>
<rect x="404" y="304" width="1" height="8" fill="#fff"/>
<rect x="400" y="308" width="1" height="17" fill="#131722"/>
<rect x="399" y="312" width="3" height="5" fill="#131722"/>
<rect x="400" y="313" width="1" height="3" fill="#fff"/>
<rect x="396" y="301" width="1" height="24" fill="#131722"/>
<rect x="395" y="309" width="3" height="8" fill="#131722"/>
<rect x="393" y="292" width="1" height="43" fill="#131722"/>
<rect x="392" y="309" width="3" height="24" fill="#131722"/>
<rect x="393" y="310" width="1" height="22" fill="#fff"/>
<rect x="389" y="326" width="1" height="23" fill="#131722"/>
<rect x="388" y="332" width="3" height="17" fill="#131722"/>
<rect x="389" y="333" width="1" height="15" fill="#fff"/>
<rect x="385" y="344" width="1" height="13" fill="#131722"/>
<rect x="384" y="348" width="3" height="4" fill="#131722"/>
<rect x="385" y="349" width="1" height="2" fill="#fff"/>
<rect x="381" y="338" width="1" height="41" fill="#131722"/>
<rect x="380" y="350" width="3" height="25" fill="#131722"/>
<rect x="381" y="351" width="1" height="23" fill="#fff"/>
<rect x="377" y="369" width="1" height="14" fill="#131722"/>
<rect x="376" y="374" width="3" height="1" fill="#131722"/>
<rect x="374" y="366" width="1" height="20" fill="#131722"/>
<rect x="373" y="375" width="3" height="10" fill="#131722"/>
<rect x="374" y="376" width="1" height="8" fill="#fff"/>
<rect x="370" y="374" width="1" height="22" fill="#131722"/>
<rect x="369" y="385" width="3" height="10" fill="#131722"/>
<rect x="370" y="386" width="1" height="8" fill="#fff"/>
<rect x="366" y="372" width="1" height="25" fill="#131722"/>
<rect x="365" y="390" width="3" height="5" fill="#131722"/>
<rect x="362" y="387" width="1" height="22" fill="#131722"/>
<rect x="361" y="390" width="3" height="6" fill="#131722"/>
<rect x="362" y="391" width="1" height="4" fill="#fff"/>
<rect x="358" y="393" width="1" height="29" fill="#131722"/>
<rect x="357" y="397" width="3" height="10" fill="#131722"/>
<rect x="358" y="398" width="1" height="8" fill="#fff"/>
<rect x="355" y="383" width="1" height="28" fill="#131722"/>
<rect x="354" y="392" width="3" height="15" fill="#131722"/>
<rect x="351" y="377" width="1" height="21" fill="#131722"/>
<rect x="350" y="385" width="3" height="8" fill="#131722"/>
<rect x="347" y="359" width="1" height="29" fill="#131722"/>
<rect x="346" y="368" width="3" height="17" fill="#131722"/>
<rect x="343" y="355" width="1" height="28" fill="#131722"/>
<rect x="342" y="366" width="3" height="3" fill="#131722"/>
<rect x="339" y="361" width="1" height="52" fill="#131722"/>
<rect x="338" y="367" width="3" height="34" fill="#131722"/>
<rect x="339" y="368" width="1" height="32" fill="#fff"/>
<rect x="336" y="366" width="1" height="41" fill="#131722"/>
<rect x="335" y="395" width="3" height="6" fill="#131722"/>
<rect x="332" y="381" width="1" height="52" fill="#131722"/>
<rect x="331" y="394" width="3" height="30" fill="#131722"/>
<rect x="332" y="395" width="1" height="28" fill="#fff"/>
<rect x="328" y="393" width="1" height="43" fill="#131722"/>
<rect x="327" y="403" width="3" height="20" fill="#131722"/>
<rect x="324" y="372" width="1" height="35" fill="#131722"/>
<rect x="323" y="389" width="3" height="15" fill="#131722"/>
<rect x="320" y="371" width="1" height="33" fill="#131722"/>
<rect x="319" y="387" width="3" height="3" fill="#131722"/>
<rect x="316" y="370" width="1" height="25" fill="#131722"/>
<rect x="315" y="373" width="3" height="16" fill="#131722"/>
<rect x="313" y="359" width="1" height="34" fill="#131722"/>
<rect x="312" y="373" width="3" height="17" fill="#131722"/>
<rect x="313" y="374" width="1" height="15" fill="#fff"/>
<rect x="309" y="389" width="1" height="27" fill="#131722"/>
<rect x="308" y="391" width="3" height="19" fill="#131722"/>
<rect x="309" y="392" width="1" height="17" fill="#fff"/>
<rect x="305" y="404" width="1" height="66" fill="#131722"/>
<rect x="304" y="409" width="3" height="55" fill="#131722"/>
<rect x="305" y="410" width="1" height="53" fill="#fff"/>
<rect x="301" y="455" width="1" height="24" fill="#131722"/>
<rect x="300" y="463" width="3" height="14" fill="#131722"/>
<rect x="301" y="464" width="1" height="12" fill="#fff"/>
<rect x="297" y="467" width="1" height="14" fill="#131722"/>
<rect x="296" y="475" width="3" height="4" fill="#131722"/>
<rect x="297" y="476" width="1" height="2" fill="#fff"/>
<rect x="294" y="464" width="1" height="20" fill="#131722"/>
<rect x="293" y="472" width="3" height="6" fill="#131722"/>
<rect x="290" y="434" width="1" height="40" fill="#131722"/>
<rect x="289" y="461" width="3" height="12" fill="#131722"/>
<rect x="286" y="454" width="1" height="30" fill="#131722"/>
<rect x="285" y="461" width="3" height="21" fill="#131722"/>
<rect x="286" y="462" width="1" height="19" fill="#fff"/>
<rect x="282" y="410" width="1" height="71" fill="#131722"/>
<rect x="281" y="410" width="3" height="71" fill="#131722"/>
<rect x="278" y="397" width="1" height="59" fill="#131722"/>
<rect x="277" y="410" width="3" height="26" fill="#131722"/>
<rect x="278" y="411" width="1" height="24" fill="#fff"/>
<rect x="275" y="425" width="1" height="13" fill="#131722"/>
<rect x="274" y="432" width="3" height="5" fill="#131722"/>
<rect x="271" y="415" width="1" height="21" fill="#131722"/>
<rect x="270" y="425" width="3" height="7" fill="#131722"/>
<rect x="267" y="421" width="1" height="18" fill="#131722"/>
<rect x="266" y="421" width="3" height="3" fill="#131722"/>
<rect x="263" y="416" width="1" height="14" fill="#131722"/>
<rect x="262" y="421" width="3" height="7" fill="#131722"/>
<rect x="263" y="422" width="1" height="5" fill="#fff"/>
<rect x="259" y="413" width="1" height="27" fill="#131722"/>
<rect x="258" y="426" width="3" height="14" fill="#131722"/>
<rect x="259" y="427" width="1" height="12" fill="#fff"/>
<rect x="256" y="433" width="1" height="16" fill="#131722"/>
<rect x="255" y="435" width="3" height="5" fill="#131722"/>
<rect x="252" y="429" width="1" height="14" fill="#131722"/>
<rect x="251" y="435" width="3" height="3" fill="#131722"/>
<rect x="252" y="436" width="1" height="1" fill="#fff"/>
<rect x="248" y="428" width="1" height="18" fill="#131722"/>
<rect x="247" y="435" width="3" height="4" fill="#131722"/>
<rect x="244" y="425" width="1" height="50" fill="#131722"/>
<rect x="243" y="435" width="3" height="33" fill="#131722"/>
<rect x="244" y="436" width="1" height="31" fill="#fff"/>
<rect x="240" y="462" width="1" height="15" fill="#131722"/>
<rect x="239" y="468" width="3" height="8" fill="#131722"/>
<rect x="240" y="469" width="1" height="6" fill="#fff"/>
<rect x="236" y="461" width="1" height="19" fill="#131722"/>
<rect x="235" y="464" width="3" height="12" fill="#131722"/>
<rect x="233" y="456" width="1" height="16" fill="#131722"/>
<rect x="232" y="459" width="3" height="6" fill="#131722"/>
<rect x="229" y="451" width="1" height="34" fill="#131722"/>
<rect x="228" y="458" width="3" height="27" fill="#131722"/>
<rect x="229" y="459" width="1" height="25" fill="#fff"/>
<rect x="225" y="466" width="1" height="31" fill="#131722"/>
<rect x="224" y="482" width="3" height="3" fill="#131722"/>
<rect x="221" y="468" width="1" height="22" fill="#131722"/>
<rect x="220" y="479" width="3" height="4" fill="#131722"/>
<rect x="217" y="462" width="1" height="22" fill="#131722"/>
<rect x="216" y="479" width="3" height="5" fill="#131722"/>
<rect x="217" y="480" width="1" height="3" fill="#fff"/>
<rect x="214" y="477" width="1" height="20" fill="#131722"/>
<rect x="213" y="484" width="3" height="8" fill="#131722"/>
<rect x="214" y="485" width="1" height="6" fill="#fff"/>
<rect x="210" y="490" width="1" height="13" fill="#131722"/>
<rect x="209" y="491" width="3" height="1" fill="#131722"/>
<rect x="206" y="487" width="1" height="17" fill="#131722"/>
<rect x="205" y="487" width="3" height="7" fill="#131722"/>
<rect x="202" y="483" width="1" height="9" fill="#131722"/>
<rect x="201" y="488" width="3" height="4" fill="#131722"/>
<rect x="202" y="489" width="1" height="2" fill="#fff"/>
<rect x="198" y="477" width="1" height="20" fill="#131722"/>
<rect x="197" y="477" width="3" height="15" fill="#131722"/>
<rect x="195" y="473" width="1" height="11" fill="#131722"/>
<rect x="194" y="477" width="3" height="1" fill="#131722"/>
<rect x="191" y="464" width="1" height="39" fill="#131722"/>
<rect x="190" y="477" width="3" height="26" fill="#131722"/>
<rect x="191" y="478" width="1" height="24" fill="#fff"/>
<rect x="187" y="494" width="1" height="21" fill="#131722"/>
<rect x="186" y="501" width="3" height="8" fill="#131722"/>
<rect x="187" y="502" width="1" height="6" fill="#fff"/>
<rect x="183" y="503" width="1" height="38" fill="#131722"/>
<rect x="182" y="509" width="3" height="18" fill="#131722"/>
<rect x="183" y="510" width="1" height="16" fill="#fff"/>
<rect x="179" y="522" width="1" height="35" fill="#131722"/>
<rect x="178" y="526" width="3" height="25" fill="#131722"/>
<rect x="179" y="527" width="1" height="23" fill="#fff"/>
<rect x="176" y="534" width="1" height="20" fill="#131722"/>
<rect x="175" y="540" width="3" height="11" fill="#131722"/>
<rect x="172" y="522" width="1" height="27" fill="#131722"/>
<rect x="171" y="525" width="3" height="16" fill="#131722"/>
<rect x="168" y="492" width="1" height="35" fill="#131722"/>
<rect x="167" y="506" width="3" height="20" fill="#131722"/>
<rect x="164" y="492" width="1" height="17" fill="#131722"/>
<rect x="163" y="497" width="3" height="10" fill="#131722"/>
<rect x="160" y="481" width="1" height="26" fill="#131722"/>
<rect x="159" y="486" width="3" height="11" fill="#131722"/>
<rect x="156" y="475" width="1" height="16" fill="#131722"/>
<rect x="155" y="477" width="3" height="10" fill="#131722"/>
<rect x="153" y="449" width="1" height="29" fill="#131722"/>
<rect x="152" y="450" width="3" height="28" fill="#131722"/>
<rect x="149" y="447" width="1" height="42" fill="#131722"/>
<rect x="148" y="450" width="3" height="35" fill="#131722"/>
<rect x="149" y="451" width="1" height="33" fill="#fff"/>
<rect x="145" y="477" width="1" height="14" fill="#131722"/>
<rect x="144" y="484" width="3" height="5" fill="#131722"/>
<rect x="145" y="485" width="1" height="3" fill="#fff"/>
<rect x="141" y="467" width="1" height="26" fill="#131722"/>
<rect x="140" y="470" width="3" height="18" fill="#131722"/>
<rect x="137" y="461" width="1" height="13" fill="#131722"/>
<rect x="136" y="468" width="3" height="3" fill="#131722"/>
<rect x="134" y="439" width="1" height="43" fill="#131722"/>
<rect x="133" y="444" width="3" height="26" fill="#131722"/>
<rect x="130" y="442" width="1" height="16" fill="#131722"/>
<rect x="129" y="444" width="3" height="12" fill="#131722"/>
<rect x="130" y="445" width="1" height="10" fill="#fff"/>
<rect x="126" y="434" width="1" height="26" fill="#131722"/>
<rect x="125" y="434" width="3" height="21" fill="#131722"/>
<rect x="122" y="424" width="1" height="27" fill="#131722"/>
<rect x="121" y="435" width="3" height="9" fill="#131722"/>
<rect x="122" y="436" width="1" height="7" fill="#fff"/>
<rect x="118" y="440" width="1" height="22" fill="#131722"/>
<rect x="117" y="443" width="3" height="9" fill="#131722"/>
<rect x="118" y="444" width="1" height="7" fill="#fff"/>
<rect x="115" y="450" width="1" height="23" fill="#131722"/>
<rect x="114" y="452" width="3" height="11" fill="#131722"/>
<rect x="115" y="453" width="1" height="9" fill="#fff"/>
<rect x="111" y="455" width="1" height="23" fill="#131722"/>
<rect x="110" y="455" width="3" height="6" fill="#131722"/>
<rect x="107" y="437" width="1" height="46" fill="#131722"/>
<rect x="106" y="455" width="3" height="22" fill="#131722"/>
<rect x="107" y="456" width="1" height="20" fill="#fff"/>
<rect x="103" y="468" width="1" height="27" fill="#131722"/>
<rect x="102" y="469" width="3" height="8" fill="#131722"/>
<rect x="99" y="461" width="1" height="41" fill="#131722"/>
<rect x="98" y="468" width="3" height="26" fill="#131722"/>
<rect x="99" y="469" width="1" height="24" fill="#fff"/>
<rect x="96" y="480" width="1" height="31" fill="#131722"/>
<rect x="95" y="495" width="3" height="8" fill="#131722"/>
<rect x="96" y="496" width="1" height="6" fill="#fff"/>
<rect x="92" y="468" width="1" height="42" fill="#131722"/>
<rect x="91" y="500" width="3" height="5" fill="#131722"/>
<rect x="88" y="478" width="1" height="28" fill="#131722"/>
<rect x="87" y="480" width="3" height="23" fill="#131722"/>
<rect x="84" y="451" width="1" height="41" fill="#131722"/>
<rect x="83" y="481" width="3" height="8" fill="#131722"/>
<rect x="84" y="482" width="1" height="6" fill="#fff"/>
<rect x="80" y="474" width="1" height="96" fill="#131722"/>
<rect x="79" y="488" width="3" height="39" fill="#131722"/>
<rect x="80" y="489" width="1" height="37" fill="#fff"/>
<rect x="76" y="477" width="1" height="52" fill="#131722"/>
<rect x="75" y="497" width="3" height="30" fill="#131722"/>
<rect x="73" y="447" width="1" height="62" fill="#131722"/>
<rect x="72" y="461" width="3" height="37" fill="#131722"/>
<rect x="69" y="404" width="1" height="65" fill="#131722"/>
<rect x="68" y="408" width="3" height="53" fill="#131722"/>
<rect x="65" y="390" width="1" height="26" fill="#131722"/>
<rect x="64" y="396" width="3" height="13" fill="#131722"/>
<rect x="61" y="390" width="1" height="28" fill="#131722"/>
<rect x="60" y="395" width="3" height="10" fill="#131722"/>
<rect x="61" y="396" width="1" height="8" fill="#fff"/>
<rect x="57" y="390" width="1" height="40" fill="#131722"/>
<rect x="56" y="403" width="3" height="15" fill="#131722"/>
<rect x="57" y="404" width="1" height="13" fill="#fff"/>
<rect x="54" y="345" width="1" height="88" fill="#131722"/>
<rect x="53" y="351" width="3" height="68" fill="#131722"/>
<rect x="50" y="334" width="1" height="18" fill="#131722"/>
<rect x="49" y="340" width="3" height="12" fill="#131722"/>
<rect x="46" y="323" width="1" height="23" fill="#131722"/>
<rect x="45" y="329" width="3" height="13" fill="#131722"/>
<rect x="42" y="325" width="1" height="23" fill="#131722"/>
<rect x="41" y="329" width="3" height="7" fill="#131722"/>
<rect x="42" y="330" width="1" height="5" fill="#fff"/>
<rect x="38" y="318" width="1" height="41" fill="#131722"/>
<rect x="37" y="319" width="3" height="18" fill="#131722"/>
<rect x="35" y="311" width="1" height="14" fill="#131722"/>
<rect x="34" y="316" width="3" height="5" fill="#131722"/>
<rect x="31" y="304" width="1" height="14" fill="#131722"/>
<rect x="30" y="312" width="3" height="5" fill="#131722"/>
<rect x="27" y="309" width="1" height="19" fill="#131722"/>
<rect x="26" y="312" width="3" height="7" fill="#131722"/>
<rect x="27" y="313" width="1" height="5" fill="#fff"/>
<rect x="23" y="314" width="1" height="16" fill="#131722"/>
<rect x="22" y="319" width="3" height="11" fill="#131722"/>
<rect x="23" y="320" width="1" height="9" fill="#fff"/>
<rect x="19" y="291" width="1" height="45" fill="#131722"/>
<rect x="18" y="313" width="3" height="16" fill="#131722"/>
<rect x="16" y="261" width="1" height="54" fill="#131722"/>
<rect x="15" y="275" width="3" height="39" fill="#131722"/>
</g>
<text class="w" x="22.7" y="58.5" font-size="15.3" textLength="180.2" lengthAdjust="spacingAndGlyphs">SAND / BUSD, 2h, BINANCE</text>
<text class="w" x="211.6" y="58.5" font-size="15.3" textLength="10.9" lengthAdjust="spacingAndGlyphs">O</text>
<text class="d" x="221.9" y="58.5" font-size="15.3" textLength="45.8" lengthAdjust="spacingAndGlyphs">3.6839</text>
<text class="w" x="276.1" y="58.5" font-size="15.3" textLength="10.5" lengthAdjust="spacingAndGlyphs">H</text>
<text class="d" x="286.0" y="58.5" font-size="15.3" textLength="45.2" lengthAdjust="spacingAndGlyphs">3.7360</text>
<text class="w" x="339.6" y="58.5" font-size="15.3" textLength="8.3" lengthAdjust="spacingAndGlyphs">L</text>
<text class="d" x="347.4" y="58.5" font-size="15.3" textLength="44.7" lengthAdjust="spacingAndGlyphs">3.6649</text>
<text class="w" x="401.1" y="58.5" font-size="15.3" textLength="9.8" lengthAdjust="spacingAndGlyphs">C</text>
<text class="d" x="409.6" y="58.5" font-size="15.3" textLength="45.8" lengthAdjust="spacingAndGlyphs">3.6892</text>
<text class="d" x="464.4" y="58.5" font-size="15.3" textLength="113.9" lengthAdjust="spacingAndGlyphs">+0.0060 (+0.16%)</text>
<g clip-path="url(#cpRsi)">
<ellipse cx="69.6" cy="728.4" rx="33.1" ry="18.9" transform="rotate(21.8 69.6 728.4)" fill="#82ab81"/>
<ellipse cx="1315.25" cy="730.1" rx="24.65" ry="19.4" transform="rotate(24 1315.25 730.1)" fill="#82ab81"/>
</g>
<g clip-path="url(#cpRsi)" fill="none" stroke="#14161d" stroke-width="1" stroke-linejoin="miter">
<polyline points="13.0,707.2 15.3,717.2 19.0,722.5 22.6,711.8 26.6,703.5 30.0,705.2 33.9,706.9 37.7,713.6 41.5,705.5 45.3,709.9 49.2,714.5 52.8,735.4 57.2,720.5 61.2,710.9 65.2,715.2 69.2,727.8 72.5,735.1 76.5,742.0 80.1,709.2 83.8,704.3 87.8,709.9 91.2,710.5 95.2,702.5 96.7,695.9 99.1,681.5 102.9,684.6 106.5,669.9 110.5,671.3 113.8,663.9 117.8,656.6 121.5,651.3 125.5,662.0 129.1,654.6 133.1,662.0 137.7,671.3 141.7,678.9 145.4,675.9 149.3,646.9 153.0,661.3 156.4,668.6 160.3,673.9 164.3,678.6 167.7,685.9 171.7,693.2 175.4,698.7 179.2,675.3 182.8,661.7 186.5,655.1 189.4,640.0"/>
<polyline points="196.3,640.0 198.1,647.2 201.0,645.3 205.4,648.6 209.2,647.0 211.3,640.0"/>
<polyline points="280.0,640.0 281.5,657.9 284.6,640.0"/>
<polyline points="286.5,640.0 289.7,650.2 293.2,653.5 297.9,651.3 301.0,640.0"/>
<polyline points="563.8,640.0 564.4,645.9 565.0,640.0"/>
<polyline points="586.7,640.0 590.3,674.0 594.3,663.8 597.9,650.5 601.6,675.3 605.5,683.4 609.2,694.6 613.0,695.1 617.7,676.6 621.7,672.2 625.5,684.5 629.1,666.2 632.9,675.3 636.7,662.7 640.5,666.6 644.3,680.7 647.9,653.2 651.6,645.2 655.4,653.7 659.0,650.8 662.5,640.0"/>
<polyline points="676.0,640.0 677.7,651.5 679.2,640.0"/>
<polyline points="849.0,640.0 852.9,662.2 857.7,647.2 861.8,650.8 865.4,667.3 869.4,663.3 873.3,658.4 876.8,640.0"/>
<polyline points="950.7,640.0 953.0,662.4 956.8,640.0"/>
<polyline points="961.8,640.0 964.4,657.5 968.2,660.8 971.5,669.3 975.3,653.7 979.3,651.1 982.9,660.0 986.7,653.2 990.7,648.4 994.3,654.8 997.8,640.0"/>
<polyline points="999.0,640.0 1002.0,649.1 1005.8,661.1 1009.4,680.2 1012.9,688.9 1018.1,682.6 1021.8,654.6 1025.4,666.0 1029.2,662.7 1033.2,665.8 1036.8,660.2 1040.6,663.1 1044.1,673.8 1048.2,676.7 1051.8,651.5 1055.5,646.4 1059.3,666.6 1063.1,659.5 1066.7,653.3 1070.5,655.9 1074.1,659.2 1077.8,653.5 1081.6,662.0 1085.4,654.6 1089.0,655.3 1093.0,660.0 1097.2,675.3 1101.5,690.8 1105.3,671.7 1109.4,674.9 1113.0,693.4 1116.6,685.6 1120.6,693.8 1124.2,670.4 1128.0,679.4 1131.7,678.5 1135.5,660.0 1139.1,657.5 1143.1,653.0 1146.7,672.8 1150.5,668.9 1155.2,640.0"/>
<polyline points="1225.0,640.0 1226.6,651.0 1230.3,654.6 1234.1,658.2 1236.0,640.0"/>
<polyline points="1249.5,640.0 1254.1,657.9 1258.1,656.5 1261.7,648.1 1265.6,661.6 1269.4,663.6 1273.0,673.5 1276.9,675.3 1280.6,682.9 1284.2,692.3 1288.1,697.7 1291.7,704.2 1295.5,686.5 1299.4,688.0 1303.0,687.2 1307.0,682.6 1310.6,681.0 1314.2,701.5 1318.7,699.3"/>
</g>
<text class="w" x="23.0" y="669.6" font-size="15.3" textLength="94.8" lengthAdjust="spacingAndGlyphs">RSI (14, close)</text>
<text class="k" x="127.5" y="669.6" font-size="15.3" textLength="37.2" lengthAdjust="spacingAndGlyphs">28.84</text>
<rect x="13" y="606" width="1536" height="1" fill="#fff"/>
<rect x="13" y="644" width="1536" height="1" fill="#fff"/>
<rect x="13" y="748" width="1536" height="1" fill="#fff"/>
<rect x="1469" y="34" width="1" height="749" fill="#fff"/>
<g clip-path="url(#cpAx)">
<text class="w" x="1481.3" y="55.4" font-size="15.3" textLength="46.0" lengthAdjust="spacingAndGlyphs">5.0000</text>
<text class="w" x="1481.3" y="98.0" font-size="15.3" textLength="46.0" lengthAdjust="spacingAndGlyphs">4.8000</text>
<text class="w" x="1481.3" y="140.6" font-size="15.3" textLength="46.0" lengthAdjust="spacingAndGlyphs">4.6000</text>
<text class="w" x="1481.3" y="183.3" font-size="15.3" textLength="46.0" lengthAdjust="spacingAndGlyphs">4.4000</text>
<text class="w" x="1481.3" y="225.9" font-size="15.3" textLength="46.0" lengthAdjust="spacingAndGlyphs">4.2000</text>
<text class="w" x="1481.3" y="268.6" font-size="15.3" textLength="46.0" lengthAdjust="spacingAndGlyphs">4.0000</text>
<text class="w" x="1481.3" y="311.2" font-size="15.3" textLength="46.0" lengthAdjust="spacingAndGlyphs">3.8000</text>
<text class="w" x="1481.3" y="353.8" font-size="15.3" textLength="46.0" lengthAdjust="spacingAndGlyphs">3.6000</text>
<text class="w" x="1481.3" y="396.5" font-size="15.3" textLength="46.0" lengthAdjust="spacingAndGlyphs">3.4000</text>
<text class="w" x="1481.3" y="439.1" font-size="15.3" textLength="46.0" lengthAdjust="spacingAndGlyphs">3.2000</text>
<text class="w" x="1481.3" y="481.8" font-size="15.3" textLength="46.0" lengthAdjust="spacingAndGlyphs">3.0000</text>
<text class="w" x="1481.3" y="524.4" font-size="15.3" textLength="46.0" lengthAdjust="spacingAndGlyphs">2.8000</text>
<text class="w" x="1481.3" y="567.0" font-size="15.3" textLength="46.0" lengthAdjust="spacingAndGlyphs">2.6000</text>
<text class="w" x="1481.3" y="609.7" font-size="15.3" textLength="46.0" lengthAdjust="spacingAndGlyphs">2.4000</text>
</g>
<text class="w" x="1481.3" y="631.4" font-size="15.3" textLength="46.0" lengthAdjust="spacingAndGlyphs">0.0000</text>
<text class="w" x="1481.3" y="671.7" font-size="15.3" textLength="38.0" lengthAdjust="spacingAndGlyphs">40.00</text>
<text class="w" x="1481.3" y="730.6" font-size="15.3" textLength="38.0" lengthAdjust="spacingAndGlyphs">20.00</text>
<rect x="1487.5" y="42.5" width="43" height="22" rx="4.5" ry="4.5" fill="#9598a1" stroke="#cfd2d9" stroke-width="1"/>
<text class="w" x="1491.7" y="57.9" font-size="15.3" textLength="34.8" lengthAdjust="spacingAndGlyphs">BUSD</text>
<path d="M1387 320H1469V341H1387a2 2 0 0 1-2-2V322a2 2 0 0 1 2-2z" fill="#fff"/>
<path d="M1469 320H1532a2 2 0 0 1 2 2V357a2 2 0 0 1-2 2H1469z" fill="#fff"/>
<text class="d" x="1390.9" y="335.5" font-size="15.3" textLength="70.1" lengthAdjust="spacingAndGlyphs">SANDBUSD</text>
<text class="d" x="1481.9" y="335.5" font-size="15.3" textLength="44.7" lengthAdjust="spacingAndGlyphs">3.6892</text>
<text class="g" x="1481.7" y="353.7" font-size="15.3" textLength="37.3" lengthAdjust="spacingAndGlyphs">41:58</text>
<text class="w" x="144.6" y="770.7" font-size="15.3" textLength="16.4" lengthAdjust="spacingAndGlyphs">24</text>
<text class="w" x="281.1" y="770.7" font-size="15.3" textLength="17.1" lengthAdjust="spacingAndGlyphs">27</text>
<text class="w" x="385.1" y="770.7" font-size="15.3" textLength="37.9" lengthAdjust="spacingAndGlyphs">13:00</text>
<text class="w" x="651.4" y="770.7" font-size="15.3" textLength="8.3" lengthAdjust="spacingAndGlyphs">4</text>
<text class="w" x="787.9" y="770.7" font-size="15.3" textLength="9.2" lengthAdjust="spacingAndGlyphs">7</text>
<text class="w" x="922.0" y="770.7" font-size="15.3" textLength="16.7" lengthAdjust="spacingAndGlyphs">10</text>
<text class="w" x="1104.9" y="770.7" font-size="15.3" textLength="16.3" lengthAdjust="spacingAndGlyphs">14</text>
<text class="w" x="1241.6" y="770.7" font-size="15.3" textLength="16.2" lengthAdjust="spacingAndGlyphs">17</text>
<text class="w" x="1424.3" y="770.7" font-size="15.3" textLength="15.9" lengthAdjust="spacingAndGlyphs">21</text>
<text class="w" x="505.8" y="770.7" font-size="15.3" textLength="25.5" lengthAdjust="spacingAndGlyphs" font-weight="bold">Feb</text>
<g fill="#131722">
<path d="M13 798.8H22.9V810.8H17.9V803.5H13z"/>
<circle cx="26.85" cy="801.5" r="2.75"/>
<path d="M32.2 798.8H37.6L32.6 810.8H27z"/>
</g>
<text class="t" x="41.3" y="810.8" font-size="15.6" textLength="89.0" lengthAdjust="spacingAndGlyphs">TradingView</text>
</svg>
</body></html>
